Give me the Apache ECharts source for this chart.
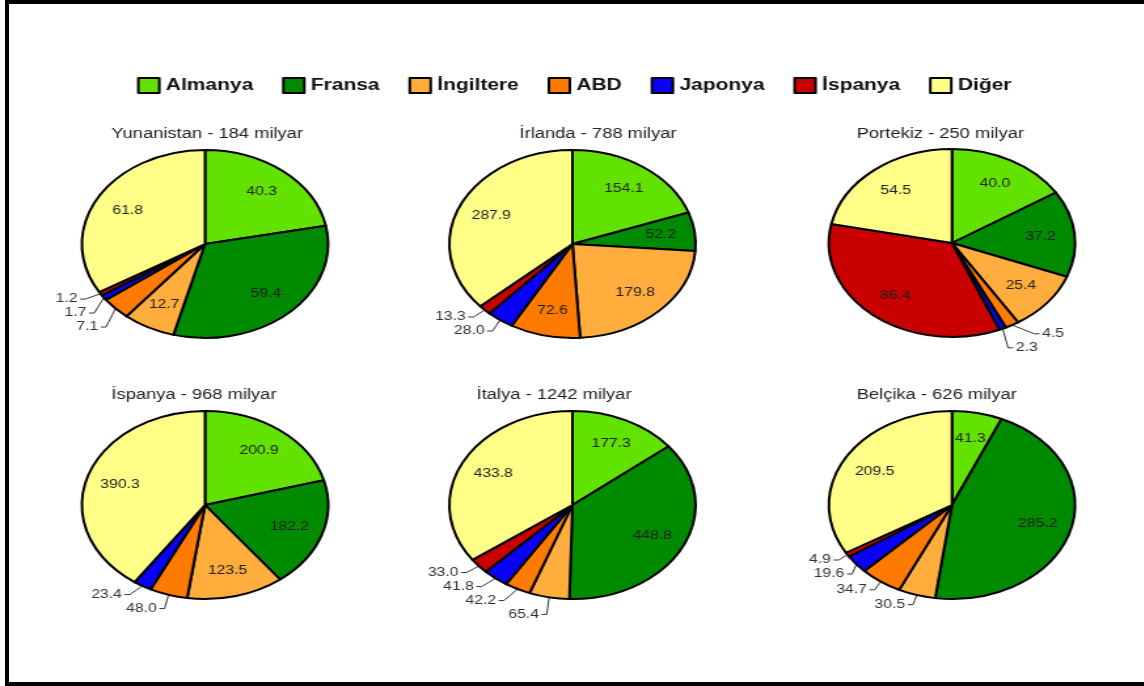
<!DOCTYPE html>
<html lang="tr">
<head>
<meta charset="utf-8">
<title>Dış borç - alacaklı ülkeler</title>
<script src="https://cdn.jsdelivr.net/npm/echarts@6/dist/echarts.min.js"></script>
<style>
  body { margin: 0; background: #fff; overflow: hidden; }
  /* siyah çerçeve: üst, sol, alt */
  #cerceve { position: absolute; left: 5px; top: 0; width: 1139px; height: 678px;
             border: 4px solid #000; border-right: none; }
  /* resim yatayda gerilmiş; aynı gerilmeyi CSS ile veriyoruz */
  #grafik { position: absolute; left: 0; top: 0; width: 873px; height: 686px;
            transform: scaleX(1.31); transform-origin: 0 0; }
</style>
</head>
<body>
<div id="cerceve"></div>
<div id="grafik"></div>

<script>
// alacaklı ülkeler (saat yönünde, tepeden başlayarak)
var ulkeler = ['Almanya', 'Fransa', 'İngiltere', 'ABD', 'Japonya', 'İspanya', 'Diğer'];
var renkler = ['#62e200', '#008a00', '#ffad3d', '#ff7a00', '#0a00f5', '#c80000', '#ffff88'];

// borçlu ülkeler
var basliklar = ['Yunanistan - 184 milyar', 'İrlanda - 788 milyar', 'Portekiz - 250 milyar',
                 'İspanya - 968 milyar', 'İtalya - 1242 milyar', 'Belçika - 626 milyar'];

var yunanistan = [40.3, 59.4, 12.7, 7.1, 1.7, 1.2, 61.8];
var irlanda    = [154.1, 52.2, 179.8, 72.6, 28.0, 13.3, 287.9];
var portekiz   = [40.0, 37.2, 25.4, 4.5, 2.3, 86.4, 54.5];
var ispanya    = [200.9, 182.2, 123.5, 48.0, 23.4, 0, 390.3];
var italya     = [177.3, 448.8, 65.4, 42.2, 41.8, 33.0, 433.8];
var belcika    = [41.3, 285.2, 30.5, 34.7, 19.6, 4.9, 209.5];

var tumVeri = [yunanistan, irlanda, portekiz, ispanya, italya, belcika];

// yerleşim (gerilmemiş koordinatlar)
var merkezler = [[156.5, 244], [437, 244], [726.7, 243], [156.5, 505], [437, 505], [726.7, 505]];
var baslikKonum = [[80, 122], [391.6, 122], [649, 122], [80, 383], [358.8, 383], [649, 383]];
var yaricap = 94;

function dilimler(degerler, icerde) {
  var toplam = degerler.reduce(function (a, b) { return a + b; }, 0);
  return ulkeler.map(function (ad, i) {
    var buyuk = degerler[i] / toplam >= 0.06;
    var goster = icerde ? buyuk : (!buyuk && degerler[i] > 0);
    return { name: ad, value: degerler[i], label: { show: goster }, labelLine: { show: goster } };
  });
}

function yaz(p) { return p.value.toFixed(1); }

var seriler = [];
var basliklarOpt = [];

tumVeri.forEach(function (degerler, k) {
  // görünen dilimler + küçük dilimlerin dış etiketleri
  seriler.push({
    type: 'pie',
    radius: yaricap,
    center: merkezler[k],
    startAngle: 90,
    clockwise: true,
    avoidLabelOverlap: true,
    itemStyle: { borderColor: '#000', borderWidth: 2 },
    label: { position: 'outside', formatter: yaz, color: '#333', fontSize: 12,
             fontFamily: 'Arial', distanceToLabelLine: 2 },
    labelLine: { length: 10, length2: 4, lineStyle: { color: '#333', width: 1 } },
    emphasis: { disabled: true },
    data: dilimler(degerler, false)
  });
  // iç etiketler için şeffaf halka (etiketler yarıçapın ~2/3'ünde dursun)
  seriler.push({
    type: 'pie',
    radius: [36, yaricap],
    center: merkezler[k],
    startAngle: 90,
    clockwise: true,
    silent: true,
    legendHoverLink: false,
    itemStyle: { color: 'rgba(0,0,0,0)', borderWidth: 0 },
    label: { position: 'inside', formatter: yaz, color: '#222', fontSize: 12, fontFamily: 'Arial' },
    emphasis: { disabled: true },
    data: dilimler(degerler, true)
  });
  basliklarOpt.push({
    text: basliklar[k],
    left: baslikKonum[k][0],
    top: baslikKonum[k][1],
    textStyle: { fontSize: 14, fontWeight: 'normal', color: '#222', fontFamily: 'Arial' }
  });
});

var grafik = echarts.init(document.getElementById('grafik'), null, { renderer: 'canvas' });
grafik.setOption({
  animation: false,
  backgroundColor: 'transparent',
  color: renkler,
  title: basliklarOpt,
  legend: {
    data: ulkeler,
    left: 99.6,
    top: 72,
    icon: 'rect',
    itemWidth: 16,
    itemHeight: 15,
    itemGap: 22,
    itemStyle: { borderColor: '#000', borderWidth: 2 },
    textStyle: { fontSize: 16, fontWeight: 'bold', color: '#111', fontFamily: 'Arial' }
  },
  series: seriler
});
</script>
</body>
</html>
